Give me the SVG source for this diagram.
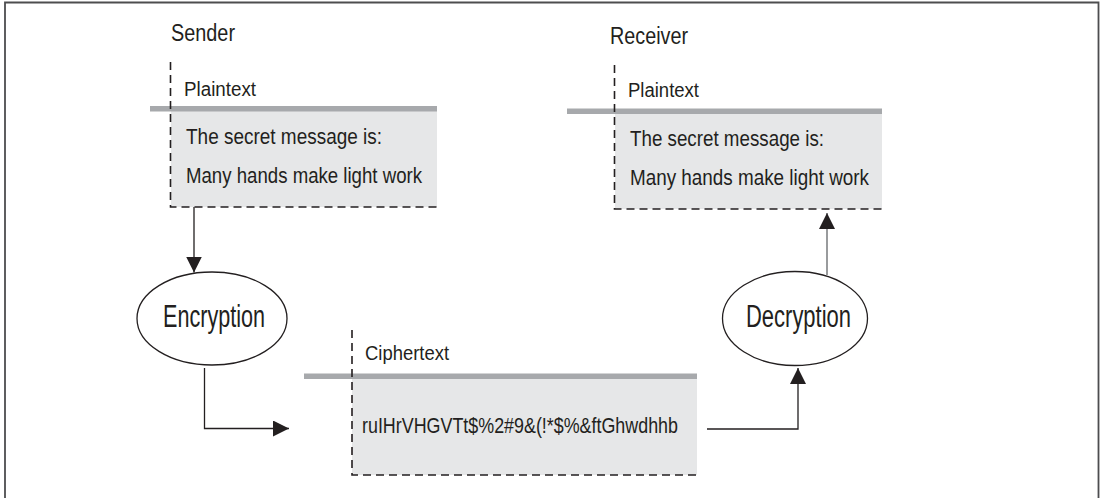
<svg xmlns="http://www.w3.org/2000/svg" width="1100" height="498" viewBox="0 0 1100 498">
<style>
  text { font-family: "Liberation Sans Narrow", "Liberation Sans", Arial, sans-serif; fill: #231f20; }
  .title { font-size: 23px; }
  .label { font-size: 20px; }
  .body { font-size: 22px; }
  .op { font-size: 31px; }
  .fill { fill: #e6e7e8; }
  .bar { fill: #a7a9ac; }
  .dash { stroke: #231f20; stroke-width: 1.6; stroke-dasharray: 8 5; fill: none; }
  .conn { stroke: #231f20; stroke-width: 1.3; fill: none; }
  .conn-gray { stroke: #808285; stroke-width: 1.6; fill: none; }
  .ell { fill: #ffffff; stroke: #231f20; stroke-width: 1.3; }
</style>
<defs>
  <marker id="arrow" viewBox="0 0 16 16" refX="16" refY="8" markerWidth="16" markerHeight="16" markerUnits="userSpaceOnUse" orient="auto">
    <path d="M0,0 L16,8 L0,16 Z" fill="#231f20"/>
  </marker>
</defs>
<rect x="0" y="0" width="1100" height="498" fill="#ffffff"/>
<path d="M5,500 L5,2.5 L1098.5,2.5 L1098.5,500" fill="none" stroke="#4d4d4f" stroke-width="1.8"/>

<g id="sender">
  <text class="title" x="171" y="41" textLength="64" lengthAdjust="spacingAndGlyphs">Sender</text>
  <rect class="fill" x="171" y="109" width="266" height="98"/>
  <rect class="bar" x="150" y="106" width="287" height="5.5"/>
  <path class="dash" d="M170.5,62 L170.5,207 L437,207"/>
  <text class="label" x="184" y="96" textLength="72" lengthAdjust="spacingAndGlyphs">Plaintext</text>
  <text class="body" x="186" y="144" textLength="196" lengthAdjust="spacingAndGlyphs">The secret message is:</text>
  <text class="body" x="186" y="183" textLength="236" lengthAdjust="spacingAndGlyphs">Many hands make light work</text>
</g>

<g id="receiver">
  <text class="title" x="610" y="44" textLength="78" lengthAdjust="spacingAndGlyphs">Receiver</text>
  <rect class="fill" x="615" y="111" width="267" height="98"/>
  <rect class="bar" x="567" y="108.5" width="315" height="5.5"/>
  <path class="dash" d="M614.5,65 L614.5,209 L882,209"/>
  <text class="label" x="628" y="97" textLength="71" lengthAdjust="spacingAndGlyphs">Plaintext</text>
  <text class="body" x="630" y="146" textLength="194" lengthAdjust="spacingAndGlyphs">The secret message is:</text>
  <text class="body" x="630" y="185" textLength="239" lengthAdjust="spacingAndGlyphs">Many hands make light work</text>
</g>

<g id="ciphertext">
  <rect class="fill" x="352" y="376" width="345" height="99"/>
  <rect class="bar" x="304" y="373.5" width="393" height="5.5"/>
  <path class="dash" d="M352,330 L352,475 L697,475"/>
  <text class="label" x="365" y="360" textLength="84" lengthAdjust="spacingAndGlyphs">Ciphertext</text>
  <text class="body" x="362" y="433" textLength="316" lengthAdjust="spacingAndGlyphs">ruIHrVHGVTt$%2#9&amp;(!*$%&amp;ftGhwdhhb</text>
</g>

<g id="encryption">
  <ellipse class="ell" cx="212" cy="318.5" rx="75" ry="46.5"/>
  <text class="op" x="163" y="327" textLength="102" lengthAdjust="spacingAndGlyphs">Encryption</text>
</g>

<g id="decryption">
  <ellipse class="ell" cx="795" cy="318.5" rx="72.5" ry="47"/>
  <text class="op" x="746" y="327" textLength="105" lengthAdjust="spacingAndGlyphs">Decryption</text>
</g>

<g id="connectors">
  <path class="conn" d="M194,207 L194,272.5" marker-end="url(#arrow)"/>
  <path class="conn" d="M204.5,368 L204.5,428.5 L289,428.5" marker-end="url(#arrow)"/>
  <path class="conn" d="M707,429 L798,429 L798,368" marker-end="url(#arrow)"/>
  <path class="conn-gray" d="M827,275 L827,213" marker-end="url(#arrow)"/>
</g>
</svg>
